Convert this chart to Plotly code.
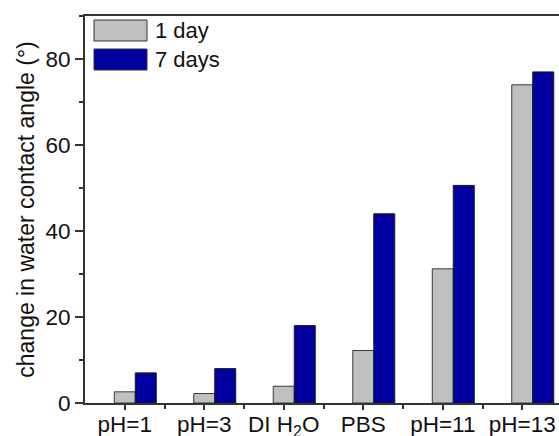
import plotly.graph_objects as go

categories = ["pH=1", "pH=3", "DI H<sub>2</sub>O", "PBS", "pH=11", "pH=13"]
day1 = [2.6, 2.2, 3.9, 12.2, 31.2, 74.0]
day7 = [7.0, 8.0, 18.0, 44.0, 50.6, 77.0]
series_names = ["1 day", "7 days"]
series_colors = ["#C0C0C0", "#0000A0"]
y_ticks = [0, 20, 40, 60, 80]

xpos = list(range(len(categories)))
bw = 0.264
font = "Liberation Sans, Arial, sans-serif"

fig = go.Figure()
fig.add_trace(go.Bar(x=xpos, y=day1, name=series_names[0], width=bw, offset=-bw / 2,
                     showlegend=False,
                     marker=dict(color=series_colors[0], line=dict(color="#3a3a3a", width=1))))
fig.add_trace(go.Bar(x=xpos, y=day7, name=series_names[1], width=bw, offset=bw / 2,
                     showlegend=False,
                     marker=dict(color=series_colors[1], line=dict(color="#1a1a1a", width=1))))

# legend drawn as swatches + labels (paper coordinates, top-left inside plot)
W, H = 559, 436
L, R, T, B = 85, 0, 16, 33
pw, ph = W - L - R, H - T - B
def px(x):
    return (x - L) / pw
def py(y):
    return 1 - (y - T) / ph
rows = [(20, 41), (49, 70)]
for (y0, y1), name, col in zip(rows, series_names, series_colors):
    fig.add_shape(type="rect", xref="paper", yref="paper",
                  x0=px(94), x1=px(147), y0=py(y1), y1=py(y0),
                  fillcolor=col, line=dict(color="#333", width=1))
    fig.add_annotation(xref="paper", yref="paper", x=px(153), y=py((y0 + y1) / 2),
                       xanchor="left", yanchor="middle", text=name, showarrow=False,
                       font=dict(size=22, family=font, color="#111"))

fig.update_layout(
    width=W, height=H,
    margin=dict(l=L, r=R, t=T, b=B, autoexpand=False),
    barmode="overlay",
    plot_bgcolor="white", paper_bgcolor="white",
    font=dict(family=font, size=22, color="#111"),
    showlegend=False,
    xaxis=dict(range=[-0.5, 5.462], tickvals=xpos, ticktext=categories,
               automargin=False,
               showline=True, linecolor="#333", linewidth=2, mirror=True,
               ticks="outside", ticklen=5, tickwidth=1.5, tickcolor="#333",
               minor=dict(tickvals=[0.5, 1.5, 2.5, 3.5, 4.5], ticks="outside", ticklen=4,
                          tickwidth=1.5, tickcolor="#333"),
               showgrid=False, zeroline=False, tickfont=dict(size=22.5),
               ticklabelstandoff=-5),
    yaxis=dict(range=[0, 90], tickvals=y_ticks,
               automargin=False,
               showline=True, linecolor="#333", linewidth=2, mirror=False,
               ticks="outside", ticklen=8, tickwidth=1.5, tickcolor="#333",
               minor=dict(dtick=10, tick0=0, ticks="outside", ticklen=4,
                          tickwidth=1.5, tickcolor="#333"),
               showgrid=False, zeroline=False, tickfont=dict(size=22.5),
               ticklabelstandoff=0,
               title=dict(text="change in water contact angle (°)", font=dict(size=23),
                          standoff=4)),
)

fig.write_html("out.html", config={"displayModeBar": False},
               post_script="document.body.style.margin='0';document.body.style.overflow='hidden';")
